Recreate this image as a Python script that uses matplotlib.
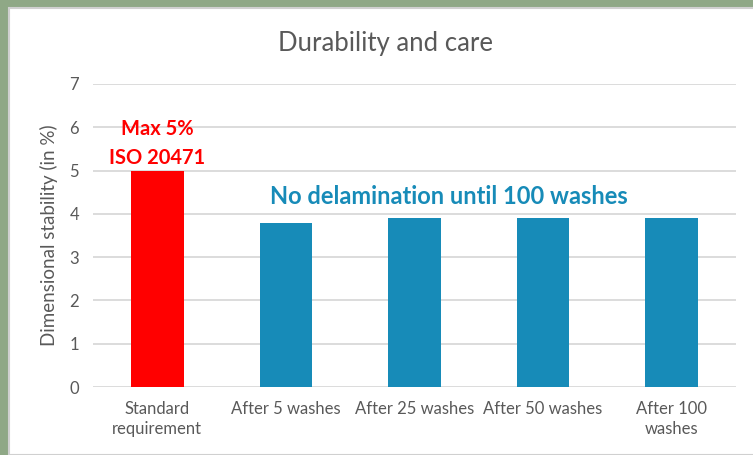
import matplotlib.pyplot as plt
import matplotlib.patches as mpatches

plt.rcParams['font.family'] = ['Lato', 'DejaVu Sans']

categories = ['Standard\nrequirement', 'After 5 washes', 'After 25 washes',
              'After 50 washes', 'After 100\nwashes']
values = [5.0, 3.8, 3.9, 3.9, 3.9]
bar_colors = ['#ff0000', '#178bb8', '#178bb8', '#178bb8', '#178bb8']

text_grey = '#595959'
grid_grey = '#d9d9d9'

fig = plt.figure(figsize=(7.53, 4.55), dpi=100)
fig.patch.set_facecolor('#8fa886')

# white chart panel over the photo background
panel = mpatches.Rectangle((9 / 753, 0), 1, 1 - 8 / 455, transform=fig.transFigure,
                           facecolor='white', edgecolor='#d0d0d0', linewidth=1.5,
                           zorder=-10)
fig.patches.append(panel)

ax = fig.add_axes([93 / 753, (455 - 387) / 455, (736 - 93) / 753, (387 - 84) / 455])
ax.set_facecolor('none')

x = range(len(categories))
ax.bar(x, values, width=0.41, color=bar_colors, zorder=3)

ax.set_xlim(-0.5, len(categories) - 0.5)
ax.set_ylim(0, 7)
ax.set_yticks(range(0, 8))
ax.yaxis.grid(True, color=grid_grey, linewidth=1.3, zorder=0)
ax.set_axisbelow(True)
for s in ax.spines.values():
    s.set_visible(False)
ax.tick_params(axis='both', length=0, labelsize=12, colors=text_grey, pad=10)
ax.set_xticks(list(x))
ax.set_xticklabels(categories, linespacing=1.3)
ax.set_ylabel('Dimensional stability (in %)', fontsize=13.5, color=text_grey, labelpad=8)

fig.text(385 / 753, 1 - 44 / 455, 'Durability and care', ha='center', va='center',
         fontsize=18.5, color=text_grey)

ax.text(0, 5.05, 'Max 5%\nISO 20471', ha='center', va='bottom', fontsize=14.5,
        fontweight='bold', color='#ff0000', linespacing=1.6)
ax.text(2.27, 4.41, 'No delamination until 100 washes', ha='center', va='center',
        fontsize=17, fontweight='bold', color='#178bb8')

fig.savefig('out.png', dpi=100, facecolor=fig.get_facecolor())
